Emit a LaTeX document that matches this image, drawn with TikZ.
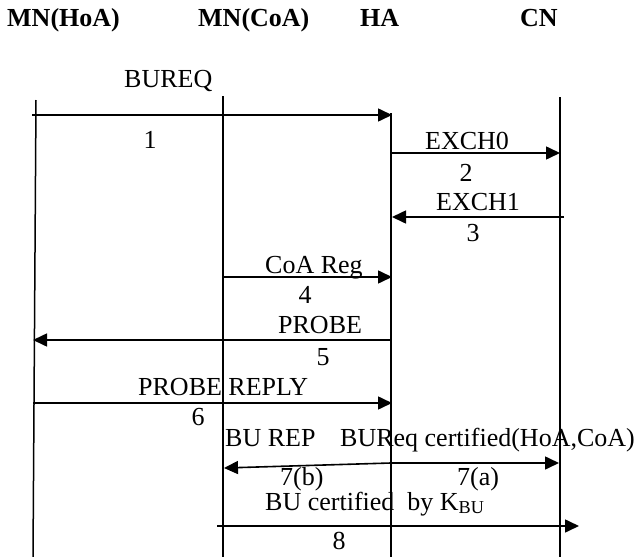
\documentclass[tikz,border=0pt]{standalone}
\usepackage{fontspec}
\setmainfont{Liberation Serif}
\usetikzlibrary{arrows.meta}
\begin{document}
\begin{tikzpicture}[x=1pt,y=-1pt,
  lifeline/.style={line width=1.5pt},
  msg/.style={line width=1.6pt,-{Triangle[length=14pt,width=13pt]}},
  lbl/.style={inner sep=0pt,anchor=base west,font=\fontsize{26}{30}\selectfont},
  num/.style={inner sep=0pt,anchor=base,font=\fontsize{26}{30}\selectfont},
  head/.style={inner sep=0pt,anchor=base west,font=\fontsize{26}{30}\selectfont\bfseries}]
\useasboundingbox (0,0) rectangle (638,557);
% headers
\node[head] (hHoA) at (7,26) {MN(HoA)};
\node[head] (hCoA) at (198,26) {MN(CoA)};
\node[head] (hHA) at (360,26) {HA};
\node[head] (hCN) at (520,26) {CN};
% lifelines
\coordinate (hoaT) at (36,100); \coordinate (hoaB) at (33,557);
\coordinate (coaT) at (223,96); \coordinate (coaB) at (223,557);
\coordinate (haT) at (391,113); \coordinate (haB) at (391,557);
\coordinate (cnT) at (560,97); \coordinate (cnB) at (560,557);
\draw[lifeline] (hoaT) -- (hoaB);
\draw[lifeline] (coaT) -- (coaB);
\draw[lifeline] (haT) -- (haB);
\draw[lifeline] (cnT) -- (cnB);
% 1 BUREQ
\coordinate (m1s) at (32,115); \coordinate (m1e) at (392,115);
\draw[msg] (m1s) -- (m1e);
\node[lbl] (t1) at (124,87) {BUREQ};
\node[num] (n1) at (150,148) {1};
% 2 EXCH0
\coordinate (m2s) at (391,153); \coordinate (m2e) at (560,153);
\draw[msg] (m2s) -- (m2e);
\node[lbl] (t2) at (425,149) {EXCH0};
\node[num] (n2) at (466,181) {2};
% 3 EXCH1
\coordinate (m3s) at (564,217); \coordinate (m3e) at (392,217);
\draw[msg] (m3s) -- (m3e);
\node[lbl] (t3) at (436,210) {EXCH1};
\node[num] (n3) at (473,241) {3};
% 4 CoA Reg
\coordinate (m4s) at (223,277); \coordinate (m4e) at (392,277);
\draw[msg] (m4s) -- (m4e);
\node[lbl] (t4) at (265,273) {CoA Reg};
\node[num] (n4) at (305,303) {4};
% 5 PROBE
\coordinate (m5s) at (391,340); \coordinate (m5e) at (33,340);
\draw[msg] (m5s) -- (m5e);
\node[lbl] (t5) at (278,333) {PROBE};
\node[num] (n5) at (323,365) {5};
% 6 PROBE REPLY
\coordinate (m6s) at (33,403); \coordinate (m6e) at (392,403);
\draw[msg] (m6s) -- (m6e);
\node[lbl] (t6) at (138,395) {PROBE REPLY};
\node[num] (n6) at (198,425) {6};
% 7 BU REP / BUReq certified
\coordinate (m7o) at (391,463);
\coordinate (m7b) at (224,468); \coordinate (m7a) at (559,463);
\draw[msg] (m7o) -- (m7b);
\draw[msg] (m7o) -- (m7a);
\node[lbl] (t7b) at (225,446) {BU REP};
\node[lbl] (t7a) at (340,446) {BUReq certified(HoA,CoA)};
\node[lbl] (n7b) at (280,485) {7(b)};
\node[lbl] (n7a) at (457,485) {7(a)};
% 8 BU certified by K_BU
\coordinate (m8s) at (217,526); \coordinate (m8e) at (579,526);
\draw[msg] (m8s) -- (m8e);
\node[lbl] (t8) at (265,510) {BU certified\ \ by K\textsubscript{BU}};
\node[num] (n8) at (339,549) {8};
\end{tikzpicture}
\end{document}
